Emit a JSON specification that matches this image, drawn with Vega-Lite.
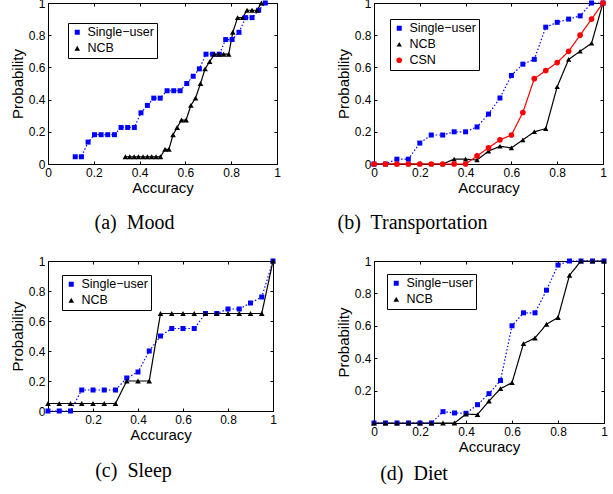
{
"$schema":"https://vega.github.io/schema/vega-lite/v6.json",
"autosize":{"type":"none"},
"padding":{"left":48,"top":3,"right":565,"bottom":491},
"background":"white",
"datasets":{
"mood":[
{"acc":0.119,"prob":0.045,"method":"Single\u2212user"},{"acc":0.146,"prob":0.045,"method":"Single\u2212user"},{"acc":0.175,"prob":0.136,"method":"Single\u2212user"},{"acc":0.203,"prob":0.182,"method":"Single\u2212user"},{"acc":0.232,"prob":0.182,"method":"Single\u2212user"},{"acc":0.261,"prob":0.182,"method":"Single\u2212user"},{"acc":0.29,"prob":0.182,"method":"Single\u2212user"},{"acc":0.319,"prob":0.227,"method":"Single\u2212user"},{"acc":0.348,"prob":0.227,"method":"Single\u2212user"},{"acc":0.377,"prob":0.227,"method":"Single\u2212user"},{"acc":0.406,"prob":0.318,"method":"Single\u2212user"},{"acc":0.434,"prob":0.364,"method":"Single\u2212user"},{"acc":0.462,"prob":0.409,"method":"Single\u2212user"},{"acc":0.49,"prob":0.409,"method":"Single\u2212user"},{"acc":0.52,"prob":0.455,"method":"Single\u2212user"},{"acc":0.549,"prob":0.455,"method":"Single\u2212user"},{"acc":0.577,"prob":0.455,"method":"Single\u2212user"},{"acc":0.606,"prob":0.5,"method":"Single\u2212user"},{"acc":0.634,"prob":0.545,"method":"Single\u2212user"},{"acc":0.661,"prob":0.591,"method":"Single\u2212user"},{"acc":0.69,"prob":0.682,"method":"Single\u2212user"},{"acc":0.719,"prob":0.682,"method":"Single\u2212user"},{"acc":0.748,"prob":0.682,"method":"Single\u2212user"},{"acc":0.776,"prob":0.773,"method":"Single\u2212user"},{"acc":0.804,"prob":0.773,"method":"Single\u2212user"},{"acc":0.834,"prob":0.818,"method":"Single\u2212user"},{"acc":0.863,"prob":0.909,"method":"Single\u2212user"},{"acc":0.891,"prob":0.909,"method":"Single\u2212user"},{"acc":0.92,"prob":0.955,"method":"Single\u2212user"},{"acc":0.949,"prob":1,"method":"Single\u2212user"},
{"acc":0.338,"prob":0.045,"method":"NCB"},{"acc":0.357,"prob":0.045,"method":"NCB"},{"acc":0.376,"prob":0.045,"method":"NCB"},{"acc":0.395,"prob":0.045,"method":"NCB"},{"acc":0.415,"prob":0.045,"method":"NCB"},{"acc":0.434,"prob":0.045,"method":"NCB"},{"acc":0.453,"prob":0.045,"method":"NCB"},{"acc":0.472,"prob":0.045,"method":"NCB"},{"acc":0.491,"prob":0.045,"method":"NCB"},{"acc":0.511,"prob":0.091,"method":"NCB"},{"acc":0.528,"prob":0.091,"method":"NCB"},{"acc":0.546,"prob":0.182,"method":"NCB"},{"acc":0.564,"prob":0.227,"method":"NCB"},{"acc":0.583,"prob":0.273,"method":"NCB"},{"acc":0.603,"prob":0.273,"method":"NCB"},{"acc":0.624,"prob":0.364,"method":"NCB"},{"acc":0.644,"prob":0.409,"method":"NCB"},{"acc":0.666,"prob":0.5,"method":"NCB"},{"acc":0.686,"prob":0.591,"method":"NCB"},{"acc":0.706,"prob":0.636,"method":"NCB"},{"acc":0.727,"prob":0.682,"method":"NCB"},{"acc":0.746,"prob":0.682,"method":"NCB"},{"acc":0.767,"prob":0.682,"method":"NCB"},{"acc":0.789,"prob":0.682,"method":"NCB"},{"acc":0.807,"prob":0.818,"method":"NCB"},{"acc":0.828,"prob":0.909,"method":"NCB"},{"acc":0.85,"prob":0.909,"method":"NCB"},{"acc":0.869,"prob":0.955,"method":"NCB"},{"acc":0.891,"prob":0.955,"method":"NCB"},{"acc":0.913,"prob":0.955,"method":"NCB"},{"acc":0.932,"prob":1,"method":"NCB"}
],
"transport":[
{"acc":0,"prob":0,"method":"Single\u2212user"},{"acc":0.05,"prob":0,"method":"Single\u2212user"},{"acc":0.1,"prob":0.03,"method":"Single\u2212user"},{"acc":0.15,"prob":0.03,"method":"Single\u2212user"},{"acc":0.2,"prob":0.13,"method":"Single\u2212user"},{"acc":0.25,"prob":0.18,"method":"Single\u2212user"},{"acc":0.3,"prob":0.18,"method":"Single\u2212user"},{"acc":0.35,"prob":0.2,"method":"Single\u2212user"},{"acc":0.4,"prob":0.2,"method":"Single\u2212user"},{"acc":0.45,"prob":0.23,"method":"Single\u2212user"},{"acc":0.5,"prob":0.31,"method":"Single\u2212user"},{"acc":0.55,"prob":0.41,"method":"Single\u2212user"},{"acc":0.6,"prob":0.55,"method":"Single\u2212user"},{"acc":0.65,"prob":0.62,"method":"Single\u2212user"},{"acc":0.7,"prob":0.65,"method":"Single\u2212user"},{"acc":0.75,"prob":0.85,"method":"Single\u2212user"},{"acc":0.8,"prob":0.88,"method":"Single\u2212user"},{"acc":0.85,"prob":0.9,"method":"Single\u2212user"},{"acc":0.9,"prob":0.92,"method":"Single\u2212user"},{"acc":0.95,"prob":1,"method":"Single\u2212user"},{"acc":1,"prob":1,"method":"Single\u2212user"},
{"acc":0,"prob":0,"method":"NCB"},{"acc":0.05,"prob":0,"method":"NCB"},{"acc":0.1,"prob":0,"method":"NCB"},{"acc":0.15,"prob":0,"method":"NCB"},{"acc":0.2,"prob":0,"method":"NCB"},{"acc":0.25,"prob":0,"method":"NCB"},{"acc":0.3,"prob":0,"method":"NCB"},{"acc":0.35,"prob":0.03,"method":"NCB"},{"acc":0.4,"prob":0.03,"method":"NCB"},{"acc":0.45,"prob":0.025,"method":"NCB"},{"acc":0.5,"prob":0.08,"method":"NCB"},{"acc":0.55,"prob":0.11,"method":"NCB"},{"acc":0.6,"prob":0.1,"method":"NCB"},{"acc":0.65,"prob":0.15,"method":"NCB"},{"acc":0.7,"prob":0.2,"method":"NCB"},{"acc":0.75,"prob":0.22,"method":"NCB"},{"acc":0.8,"prob":0.48,"method":"NCB"},{"acc":0.85,"prob":0.65,"method":"NCB"},{"acc":0.9,"prob":0.7,"method":"NCB"},{"acc":0.95,"prob":0.75,"method":"NCB"},{"acc":1,"prob":1,"method":"NCB"},
{"acc":0,"prob":0,"method":"CSN"},{"acc":0.05,"prob":0,"method":"CSN"},{"acc":0.1,"prob":0,"method":"CSN"},{"acc":0.15,"prob":0,"method":"CSN"},{"acc":0.2,"prob":0,"method":"CSN"},{"acc":0.25,"prob":0,"method":"CSN"},{"acc":0.3,"prob":0,"method":"CSN"},{"acc":0.35,"prob":0,"method":"CSN"},{"acc":0.4,"prob":0,"method":"CSN"},{"acc":0.45,"prob":0.05,"method":"CSN"},{"acc":0.5,"prob":0.1,"method":"CSN"},{"acc":0.55,"prob":0.15,"method":"CSN"},{"acc":0.6,"prob":0.18,"method":"CSN"},{"acc":0.65,"prob":0.32,"method":"CSN"},{"acc":0.7,"prob":0.53,"method":"CSN"},{"acc":0.75,"prob":0.58,"method":"CSN"},{"acc":0.8,"prob":0.63,"method":"CSN"},{"acc":0.85,"prob":0.7,"method":"CSN"},{"acc":0.9,"prob":0.8,"method":"CSN"},{"acc":0.95,"prob":0.9,"method":"CSN"},{"acc":1,"prob":1,"method":"CSN"}
],
"sleep":[
{"acc":0,"prob":0,"method":"Single\u2212user"},{"acc":0.05,"prob":0,"method":"Single\u2212user"},{"acc":0.1,"prob":0,"method":"Single\u2212user"},{"acc":0.15,"prob":0.14,"method":"Single\u2212user"},{"acc":0.2,"prob":0.14,"method":"Single\u2212user"},{"acc":0.25,"prob":0.14,"method":"Single\u2212user"},{"acc":0.3,"prob":0.14,"method":"Single\u2212user"},{"acc":0.35,"prob":0.22,"method":"Single\u2212user"},{"acc":0.4,"prob":0.26,"method":"Single\u2212user"},{"acc":0.45,"prob":0.4,"method":"Single\u2212user"},{"acc":0.5,"prob":0.5,"method":"Single\u2212user"},{"acc":0.55,"prob":0.55,"method":"Single\u2212user"},{"acc":0.6,"prob":0.55,"method":"Single\u2212user"},{"acc":0.65,"prob":0.55,"method":"Single\u2212user"},{"acc":0.7,"prob":0.65,"method":"Single\u2212user"},{"acc":0.75,"prob":0.65,"method":"Single\u2212user"},{"acc":0.8,"prob":0.68,"method":"Single\u2212user"},{"acc":0.85,"prob":0.68,"method":"Single\u2212user"},{"acc":0.9,"prob":0.72,"method":"Single\u2212user"},{"acc":0.95,"prob":0.76,"method":"Single\u2212user"},{"acc":1,"prob":1,"method":"Single\u2212user"},
{"acc":0,"prob":0.05,"method":"NCB"},{"acc":0.05,"prob":0.05,"method":"NCB"},{"acc":0.1,"prob":0.05,"method":"NCB"},{"acc":0.15,"prob":0.05,"method":"NCB"},{"acc":0.2,"prob":0.05,"method":"NCB"},{"acc":0.25,"prob":0.05,"method":"NCB"},{"acc":0.3,"prob":0.05,"method":"NCB"},{"acc":0.35,"prob":0.2,"method":"NCB"},{"acc":0.4,"prob":0.2,"method":"NCB"},{"acc":0.45,"prob":0.2,"method":"NCB"},{"acc":0.5,"prob":0.65,"method":"NCB"},{"acc":0.55,"prob":0.65,"method":"NCB"},{"acc":0.6,"prob":0.65,"method":"NCB"},{"acc":0.65,"prob":0.65,"method":"NCB"},{"acc":0.7,"prob":0.65,"method":"NCB"},{"acc":0.75,"prob":0.65,"method":"NCB"},{"acc":0.8,"prob":0.65,"method":"NCB"},{"acc":0.85,"prob":0.65,"method":"NCB"},{"acc":0.9,"prob":0.65,"method":"NCB"},{"acc":0.95,"prob":0.65,"method":"NCB"},{"acc":1,"prob":1,"method":"NCB"}
],
"diet":[
{"acc":0,"prob":0,"method":"Single\u2212user"},{"acc":0.05,"prob":0,"method":"Single\u2212user"},{"acc":0.1,"prob":0,"method":"Single\u2212user"},{"acc":0.15,"prob":0,"method":"Single\u2212user"},{"acc":0.2,"prob":0,"method":"Single\u2212user"},{"acc":0.25,"prob":0,"method":"Single\u2212user"},{"acc":0.3,"prob":0.07,"method":"Single\u2212user"},{"acc":0.35,"prob":0.062,"method":"Single\u2212user"},{"acc":0.4,"prob":0.06,"method":"Single\u2212user"},{"acc":0.45,"prob":0.113,"method":"Single\u2212user"},{"acc":0.5,"prob":0.181,"method":"Single\u2212user"},{"acc":0.55,"prob":0.262,"method":"Single\u2212user"},{"acc":0.6,"prob":0.6,"method":"Single\u2212user"},{"acc":0.65,"prob":0.68,"method":"Single\u2212user"},{"acc":0.7,"prob":0.68,"method":"Single\u2212user"},{"acc":0.75,"prob":0.82,"method":"Single\u2212user"},{"acc":0.8,"prob":0.975,"method":"Single\u2212user"},{"acc":0.85,"prob":1,"method":"Single\u2212user"},{"acc":0.9,"prob":1,"method":"Single\u2212user"},{"acc":0.95,"prob":1,"method":"Single\u2212user"},{"acc":1,"prob":1,"method":"Single\u2212user"},
{"acc":0,"prob":0,"method":"NCB"},{"acc":0.05,"prob":0,"method":"NCB"},{"acc":0.1,"prob":0,"method":"NCB"},{"acc":0.15,"prob":0,"method":"NCB"},{"acc":0.2,"prob":0,"method":"NCB"},{"acc":0.25,"prob":0,"method":"NCB"},{"acc":0.3,"prob":0,"method":"NCB"},{"acc":0.35,"prob":0,"method":"NCB"},{"acc":0.4,"prob":0.055,"method":"NCB"},{"acc":0.45,"prob":0.052,"method":"NCB"},{"acc":0.5,"prob":0.136,"method":"NCB"},{"acc":0.55,"prob":0.212,"method":"NCB"},{"acc":0.6,"prob":0.249,"method":"NCB"},{"acc":0.65,"prob":0.49,"method":"NCB"},{"acc":0.7,"prob":0.525,"method":"NCB"},{"acc":0.75,"prob":0.61,"method":"NCB"},{"acc":0.8,"prob":0.651,"method":"NCB"},{"acc":0.85,"prob":0.912,"method":"NCB"},{"acc":0.9,"prob":1,"method":"NCB"},{"acc":0.95,"prob":1,"method":"NCB"},{"acc":1,"prob":1,"method":"NCB"}
]
},
"columns":2,
"align":"none",
"bounds":"flush",
"spacing":{"row":97,"column":97},
"resolve":{"scale":{"x":"independent","y":"independent","stroke":"independent","strokeDash":"independent","strokeWidth":"independent","fill":"independent","shape":"independent","size":"independent"},"legend":{"fill":"independent","stroke":"independent","shape":"independent","size":"independent","strokeDash":"independent","strokeWidth":"independent"}},
"concat":[
{
"width":229,"height":161,
"data":{"name":"mood"},
"title":{"text":"(a)\u00a0 Mood","orient":"bottom","anchor":"middle","dx":-28,"offset":18},
"resolve":{"axis":{"x":"independent","y":"independent"}},
"layer":[
{"mark":{"type":"line","strokeWidth":1.2},
"encoding":{
"x":{"field":"acc","type":"quantitative","scale":{"domain":[0,1],"nice":false,"zero":false},"axis":{"values":[0,0.2,0.4,0.6,0.8,1],"format":"~g","title":"Accuracy","titlePadding":2}},
"y":{"field":"prob","type":"quantitative","scale":{"domain":[0,1],"nice":false},"axis":{"values":[0,0.2,0.4,0.6,0.8,1],"format":"~g","title":"Probability","titlePadding":3}},
"stroke":{"field":"method","type":"nominal","scale":{"domain":["NCB","Single\u2212user"],"range":["#000000","#0000ff"]},"legend":null},
"strokeDash":{"field":"method","type":"nominal","scale":{"domain":["NCB","Single\u2212user"],"range":[[1,0],[1.5,2]]},"legend":null}
}},
{"mark":{"type":"point","filled":true,"opacity":1},
"encoding":{
"x":{"field":"acc","type":"quantitative","axis":null},
"y":{"field":"prob","type":"quantitative","axis":null},
"fill":{"field":"method","type":"nominal","scale":{"domain":["Single\u2212user","NCB"],"range":["#0000ff","#000000"]},
 "legend":{"orient":"top-left","offset":20,"title":null,"strokeColor":"black","fillColor":"white","padding":3}},
"shape":{"field":"method","type":"nominal","scale":{"domain":["Single\u2212user","NCB"],"range":["square","triangle-up"]}},
"size":{"field":"method","type":"nominal","scale":{"domain":["Single\u2212user","NCB"],"range":[25,32]}}
}},
{"mark":{"type":"point","opacity":0},
"encoding":{
"x":{"field":"acc","type":"quantitative","axis":{"orient":"top","values":[0,0.2,0.4,0.6,0.8,1],"labels":false,"title":null,"domain":false}},
"y":{"field":"prob","type":"quantitative","axis":{"orient":"right","values":[0,0.2,0.4,0.6,0.8,1],"labels":false,"title":null,"domain":false}}
}}
]
},
{
"width":229,"height":161,
"data":{"name":"transport"},
"title":{"text":"(b)\u00a0 Transportation","orient":"bottom","anchor":"middle","dx":-76,"offset":18},
"resolve":{"axis":{"x":"independent","y":"independent"}},
"layer":[
{"mark":{"type":"line","strokeWidth":1.2},
"encoding":{
"x":{"field":"acc","type":"quantitative","scale":{"domain":[0,1],"nice":false,"zero":false},"axis":{"values":[0,0.2,0.4,0.6,0.8,1],"format":"~g","title":"Accuracy","titlePadding":2}},
"y":{"field":"prob","type":"quantitative","scale":{"domain":[0,1],"nice":false},"axis":{"values":[0,0.2,0.4,0.6,0.8,1],"format":"~g","title":"Probability","titlePadding":3}},
"stroke":{"field":"method","type":"nominal","scale":{"domain":["CSN","NCB","Single\u2212user"],"range":["#ff0000","#000000","#0000ff"]},"legend":null},
"strokeDash":{"field":"method","type":"nominal","scale":{"domain":["CSN","NCB","Single\u2212user"],"range":[[1,0],[1,0],[1.5,2]]},"legend":null},
"strokeWidth":{"field":"method","type":"nominal","scale":{"domain":["CSN","NCB","Single\u2212user"],"range":[1.5,1.2,1.2]},"legend":null}
}},
{"mark":{"type":"point","filled":true,"opacity":1},
"encoding":{
"x":{"field":"acc","type":"quantitative","axis":null},
"y":{"field":"prob","type":"quantitative","axis":null},
"fill":{"field":"method","type":"nominal","scale":{"domain":["Single\u2212user","NCB","CSN"],"range":["#0000ff","#000000","#ff0000"]},
 "legend":{"orient":"top-left","offset":16,"title":null,"strokeColor":"black","fillColor":"white","padding":3,"labelExpr":"datum.label + '\u00a0\u00a0\u00a0\u00a0\u00a0\u00a0'"}},
"shape":{"field":"method","type":"nominal","scale":{"domain":["Single\u2212user","NCB","CSN"],"range":["square","triangle-up","circle"]}},
"size":{"field":"method","type":"nominal","scale":{"domain":["Single\u2212user","NCB","CSN"],"range":[25,32,6]}}
}},
{"mark":{"type":"point","opacity":0},
"encoding":{
"x":{"field":"acc","type":"quantitative","axis":{"orient":"top","values":[0,0.2,0.4,0.6,0.8,1],"labels":false,"title":null,"domain":false}},
"y":{"field":"prob","type":"quantitative","axis":{"orient":"right","values":[0,0.2,0.4,0.6,0.8,1],"labels":false,"title":null,"domain":false}}
}}
]
},
{
"width":225,"height":150,
"data":{"name":"sleep"},
"title":{"text":"(c)\u00a0 Sleep","orient":"bottom","anchor":"middle","dx":-27,"offset":19},
"resolve":{"axis":{"x":"independent","y":"independent"}},
"layer":[
{"mark":{"type":"line","strokeWidth":1.2},
"encoding":{
"x":{"field":"acc","type":"quantitative","scale":{"domain":[0,1],"nice":false,"zero":false},"axis":{"values":[0.2,0.4,0.6,0.8,1],"format":"~g","title":"Accuracy","titlePadding":2}},
"y":{"field":"prob","type":"quantitative","scale":{"domain":[0,1],"nice":false},"axis":{"values":[0,0.2,0.4,0.6,0.8,1],"format":"~g","title":"Probability","titlePadding":3}},
"stroke":{"field":"method","type":"nominal","scale":{"domain":["NCB","Single\u2212user"],"range":["#000000","#0000ff"]},"legend":null},
"strokeDash":{"field":"method","type":"nominal","scale":{"domain":["NCB","Single\u2212user"],"range":[[1,0],[1.5,2]]},"legend":null}
}},
{"mark":{"type":"point","filled":true,"opacity":1},
"encoding":{
"x":{"field":"acc","type":"quantitative","axis":null},
"y":{"field":"prob","type":"quantitative","axis":null},
"fill":{"field":"method","type":"nominal","scale":{"domain":["Single\u2212user","NCB"],"range":["#0000ff","#000000"]},
 "legend":{"orient":"top-left","offset":14,"title":null,"strokeColor":"black","fillColor":"white","padding":3,"labelExpr":"datum.label + '\u00a0'"}},
"shape":{"field":"method","type":"nominal","scale":{"domain":["Single\u2212user","NCB"],"range":["square","triangle-up"]}},
"size":{"field":"method","type":"nominal","scale":{"domain":["Single\u2212user","NCB"],"range":[25,32]}}
}},
{"mark":{"type":"point","opacity":0},
"encoding":{
"x":{"field":"acc","type":"quantitative","axis":{"orient":"top","values":[0.2,0.4,0.6,0.8,1],"labels":false,"title":null,"domain":false}},
"y":{"field":"prob","type":"quantitative","axis":{"orient":"right","values":[0,0.2,0.4,0.6,0.8,1],"labels":false,"title":null,"domain":false}}
}}
]
},
{
"width":230,"height":162,
"data":{"name":"diet"},
"title":{"text":"(d)\u00a0 Diet","orient":"bottom","anchor":"middle","dx":-75,"offset":10},
"resolve":{"axis":{"x":"independent","y":"independent"}},
"layer":[
{"mark":{"type":"line","strokeWidth":1.2},
"encoding":{
"x":{"field":"acc","type":"quantitative","scale":{"domain":[0,1],"nice":false,"zero":false},"axis":{"values":[0,0.2,0.4,0.6,0.8,1],"format":"~g","title":"Accuracy","titlePadding":2}},
"y":{"field":"prob","type":"quantitative","scale":{"domain":[0,1],"nice":false},"axis":{"values":[0.2,0.4,0.6,0.8,1],"format":"~g","title":"Probability","titlePadding":3}},
"stroke":{"field":"method","type":"nominal","scale":{"domain":["NCB","Single\u2212user"],"range":["#000000","#0000ff"]},"legend":null},
"strokeDash":{"field":"method","type":"nominal","scale":{"domain":["NCB","Single\u2212user"],"range":[[1,0],[1.5,2]]},"legend":null}
}},
{"mark":{"type":"point","filled":true,"opacity":1},
"encoding":{
"x":{"field":"acc","type":"quantitative","axis":null},
"y":{"field":"prob","type":"quantitative","axis":null},
"fill":{"field":"method","type":"nominal","scale":{"domain":["Single\u2212user","NCB"],"range":["#0000ff","#000000"]},
 "legend":{"orient":"top-left","offset":13,"title":null,"strokeColor":"black","fillColor":"white","padding":3,"labelExpr":"datum.label + '\u00a0\u00a0\u00a0\u00a0\u00a0'"}},
"shape":{"field":"method","type":"nominal","scale":{"domain":["Single\u2212user","NCB"],"range":["square","triangle-up"]}},
"size":{"field":"method","type":"nominal","scale":{"domain":["Single\u2212user","NCB"],"range":[25,32]}}
}},
{"mark":{"type":"point","opacity":0},
"encoding":{
"x":{"field":"acc","type":"quantitative","axis":{"orient":"top","values":[0,0.2,0.4,0.6,0.8,1],"labels":false,"title":null,"domain":false}},
"y":{"field":"prob","type":"quantitative","axis":{"orient":"right","values":[0.2,0.4,0.6,0.8,1],"labels":false,"title":null,"domain":false}}
}}
]
}
],
"config":{
"view":{"stroke":"black","strokeWidth":1},
"font":"Liberation Sans",
"axis":{"labelFont":"Liberation Sans","labelFontSize":12,"labelColor":"black","titleFont":"Liberation Sans","titleFontSize":15,"titleFontWeight":"normal","titleColor":"black","domainColor":"black","tickColor":"black","tickSize":-3,"labelPadding":6,"grid":false,"labelFlush":false,"labelOverlap":false},
"legend":{"strokeColor":"black","fillColor":"white","padding":3,"labelFont":"Liberation Sans","labelFontSize":12.5,"labelColor":"black","labelOffset":4,"rowPadding":3,"cornerRadius":0},
"title":{"font":"Liberation Serif","fontSize":20,"fontWeight":"normal","color":"black"}
}
}
